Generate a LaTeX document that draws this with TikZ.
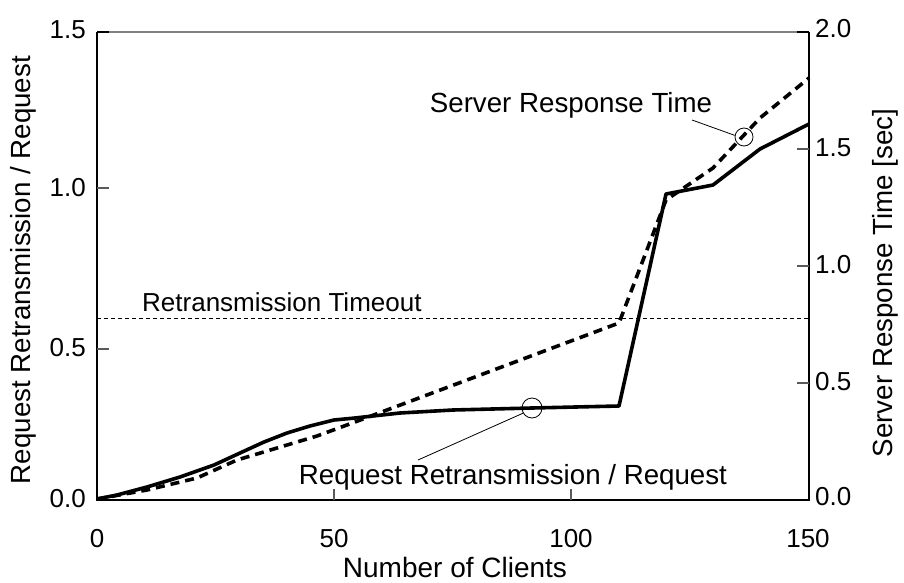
\documentclass[tikz,border=0pt]{standalone}
\usepackage{fontspec}
\setmainfont{Liberation Sans}
\begin{document}
\begin{tikzpicture}[x=1pt,y=-1pt,
  lbl/.style={inner sep=0pt,font=\fontsize{26}{30}\selectfont},
  ttl/.style={inner sep=0pt,font=\fontsize{27.7}{32}\selectfont},
  axisline/.style={black,line width=1.4pt},
  topline/.style={color={rgb,255:red,128;green,128;blue,128},line width=2pt},
  tickmark/.style={color={rgb,255:red,90;green,90;blue,90},line width=1.3pt},
  solidcurve/.style={black,line width=3.6pt,line join=round},
  dashcurve/.style={black,line width=3.6pt,dash pattern=on 9pt off 6pt},
  timeout/.style={black,line width=0.9pt,dash pattern=on 4pt off 3pt},
  pointer/.style={black,line width=0.8pt}]
\useasboundingbox (0,0) rectangle (904,583);
% frame
\coordinate (bl) at (97,500);
\coordinate (br) at (809,500);
\coordinate (tl) at (97,32);
\coordinate (tr) at (809,32);
\draw[topline] (tl) -- (tr);
\draw[axisline] (tl) -- ++(12,0);
\draw[axisline] (tr) -- ++(-12,0);
\draw[axisline] (tl) -- (bl) -- (br) -- (tr);
% ticks
\draw[tickmark] (97,188) -- ++(12,0);
\draw[tickmark] (97,349) -- ++(12,0);
\draw[tickmark] (809,383) -- ++(-12,0);
\draw[tickmark] (809,266) -- ++(-12,0);
\draw[tickmark] (809,149) -- ++(-12,0);
\draw[tickmark] (334,500) -- ++(0,-11);
\draw[tickmark] (571,500) -- ++(0,-11);
% left tick labels
\node[lbl,anchor=east] (l15) at (86,30) {1.5};
\node[lbl,anchor=east] (l10) at (86,188) {1.0};
\node[lbl,anchor=east] (l05) at (86,348) {0.5};
\node[lbl,anchor=east] (l00) at (86,499) {0.0};
% right tick labels
\node[lbl,anchor=west] (r20) at (815,29) {2.0};
\node[lbl,anchor=west] (r15) at (815,148) {1.5};
\node[lbl,anchor=west] (r10) at (815,265) {1.0};
\node[lbl,anchor=west] (r05) at (815,382) {0.5};
\node[lbl,anchor=west] (r00) at (815,497) {0.0};
% bottom tick labels
\node[lbl] (b0) at (97,539) {0};
\node[lbl] (b50) at (334,539) {50};
\node[lbl] (b100) at (571,539) {100};
\node[lbl] (b150) at (808,539) {150};
% axis titles
\node[ttl,font=\fontsize{28}{32}\selectfont] (xtitle) at (455,567) {Number of Clients};
\node[ttl,rotate=90] (ytitle) at (23,270) {Request Retransmission / Request};
\node[ttl,rotate=90] (y2title) at (885,283) {Server Response Time [sec]};
% timeout line
\coordinate (toL) at (97,318);
\coordinate (toR) at (809,318);
\draw[timeout] (toL) -- (toR);
\node[lbl,anchor=west] (tolbl) at (142,302) {Retransmission Timeout};
% data: server response time (dashed)
\draw[dashcurve] (97,499) -- (147,490) -- (197,478) -- (237,460) -- (277,448)
  -- (317,436) -- (355,422) -- (619,323) -- (666,200) -- (713,168)
  -- (760,118) -- (809,78);
% data: request retransmission / request (solid)
\draw[solidcurve] (97,499) -- (117,495) -- (147,487) -- (180,477) -- (214,465)
  -- (240,453) -- (264,442) -- (287,433) -- (310,426) -- (334,420)
  -- (355,418) -- (400,413) -- (453,410) -- (532,408) -- (619,406)
  -- (666,194) -- (713,185) -- (760,149) -- (809,124);
% annotations
\node[draw,pointer,circle,minimum size=20pt,inner sep=0pt] (c1) at (532,408) {};
\coordinate (p1) at (418,460);
\draw[pointer] (c1.210) -- (p1);
\node[ttl] (rrlbl) at (513,477) {Request Retransmission / Request};
\node[draw,pointer,circle,minimum size=18pt,inner sep=0pt] (c2) at (744,137) {};
\coordinate (p2) at (692,120);
\draw[pointer] (c2.170) -- (p2);
\node[ttl] (srlbl) at (571,105) {Server Response Time};
\end{tikzpicture}
\end{document}
